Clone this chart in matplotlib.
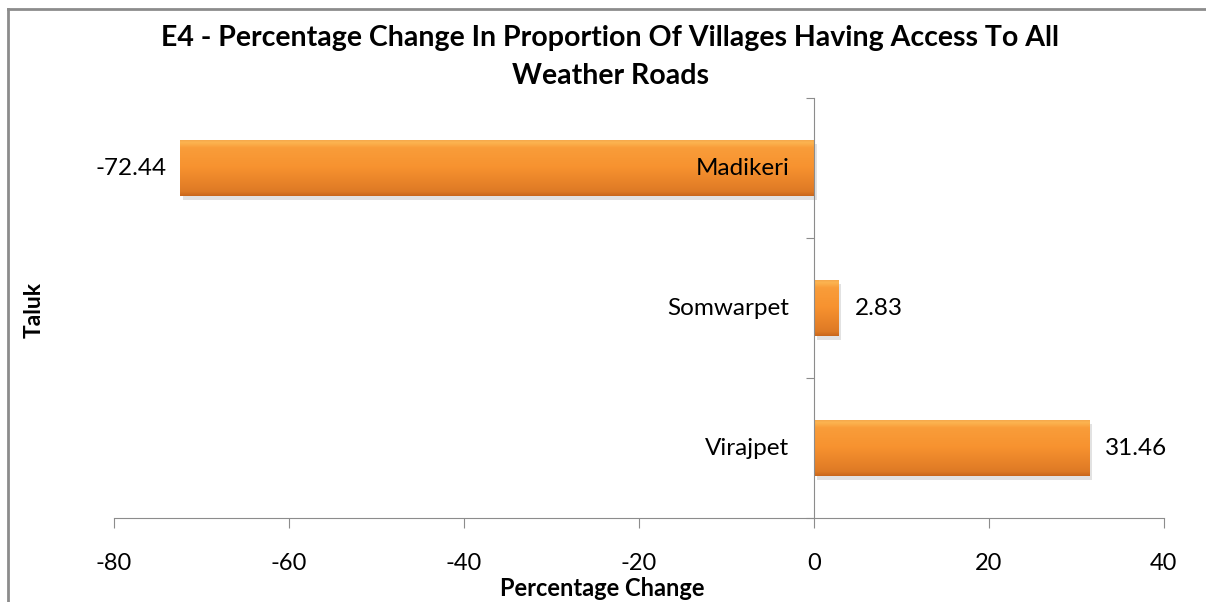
import matplotlib
matplotlib.use("Agg")
import matplotlib.pyplot as plt
import numpy as np
from matplotlib.colors import LinearSegmentedColormap
from matplotlib import patheffects as pe
from matplotlib.lines import Line2D

categories = ["Madikeri", "Somwarpet", "Virajpet"]
values = [-72.44, 2.83, 31.46]
xticks = [-80, -60, -40, -20, 0, 20, 40]
title = "E4 - Percentage Change In Proportion Of Villages Having Access To All\nWeather Roads"

plt.rcParams['font.family'] = ['Lato', 'DejaVu Sans']

fig = plt.figure(figsize=(12.06, 6.02), dpi=100)
ax = fig.add_axes([0.0945, 0.1395, 0.8706, 0.6977])

ypos = np.arange(len(categories))[::-1]  # Madikeri top
bars = ax.barh(ypos, values, height=0.4, color="#F58E2E", edgecolor="none", zorder=3)

cmap = LinearSegmentedColormap.from_list(
    "bev", [(0.0, "#C9671C"), (0.08, "#DE7A25"), (0.5, "#F7922F"), (0.85, "#F99D3A"), (0.94, "#FCB450"), (1.0, "#F2A44A")])
grad = np.linspace(0, 1, 256).reshape(-1, 1)
for b in bars:
    b.set_path_effects([pe.SimplePatchShadow(offset=(2, -3), shadow_rgbFace="#a0a0a0", alpha=0.3), pe.Normal()])
    x0, y0, w, h = b.get_x(), b.get_y(), b.get_width(), b.get_height()
    im = ax.imshow(grad, cmap=cmap, aspect="auto", origin="lower",
                   extent=[x0, x0 + w, y0, y0 + h], zorder=4)
    im.set_clip_path(b)

ax.set_xlim(-80, 40)
ax.set_ylim(-0.5, 2.5)
ax.set_xticks(xticks)
ax.set_xticklabels([str(t) for t in xticks], fontsize=17)
ax.set_yticks([-0.5, 0.5, 1.5, 2.5])
ax.set_yticklabels([])
ax.tick_params(axis='x', length=7, color="#8c8c8c", pad=18)
ax.tick_params(axis='y', length=6, color="#8c8c8c", direction='out')

for s in ["top", "right"]:
    ax.spines[s].set_visible(False)
ax.spines["left"].set_position(("data", 0))
ax.spines["left"].set_color("#8c8c8c")
ax.spines["bottom"].set_color("#8c8c8c")
ax.spines["left"].set_zorder(5)

for y, v, c in zip(ypos, values, categories):
    ax.text(-2.8, y, c, ha="right", va="center", fontsize=17.5, color="black", zorder=6)
    if v < 0:
        ax.text(v - 1.5, y, f"{v:.2f}", ha="right", va="center", fontsize=17.5, zorder=6)
    else:
        ax.text(v + 1.8, y, f"{v:.2f}", ha="left", va="center", fontsize=17.5, zorder=6)

fig.text(0.506, 0.905, title, ha="center", va="center", fontsize=20.5, fontweight="bold", linespacing=1.55)
fig.text(0.499, 0.022, "Percentage Change", ha="center", va="center", fontsize=17, fontweight="bold")
fig.text(0.028, 0.485, "Taluk", rotation=90, ha="center", va="center", fontsize=16.5, fontweight="bold")

# chart frame
fig.add_artist(Line2D([0.0066, 0.0066], [0, 0.985], transform=fig.transFigure, color="#8c8c8c", lw=2))
fig.add_artist(Line2D([0.0066, 1.0], [0.985, 0.985], transform=fig.transFigure, color="#8c8c8c", lw=2))

fig.savefig("out.png", dpi=100)
